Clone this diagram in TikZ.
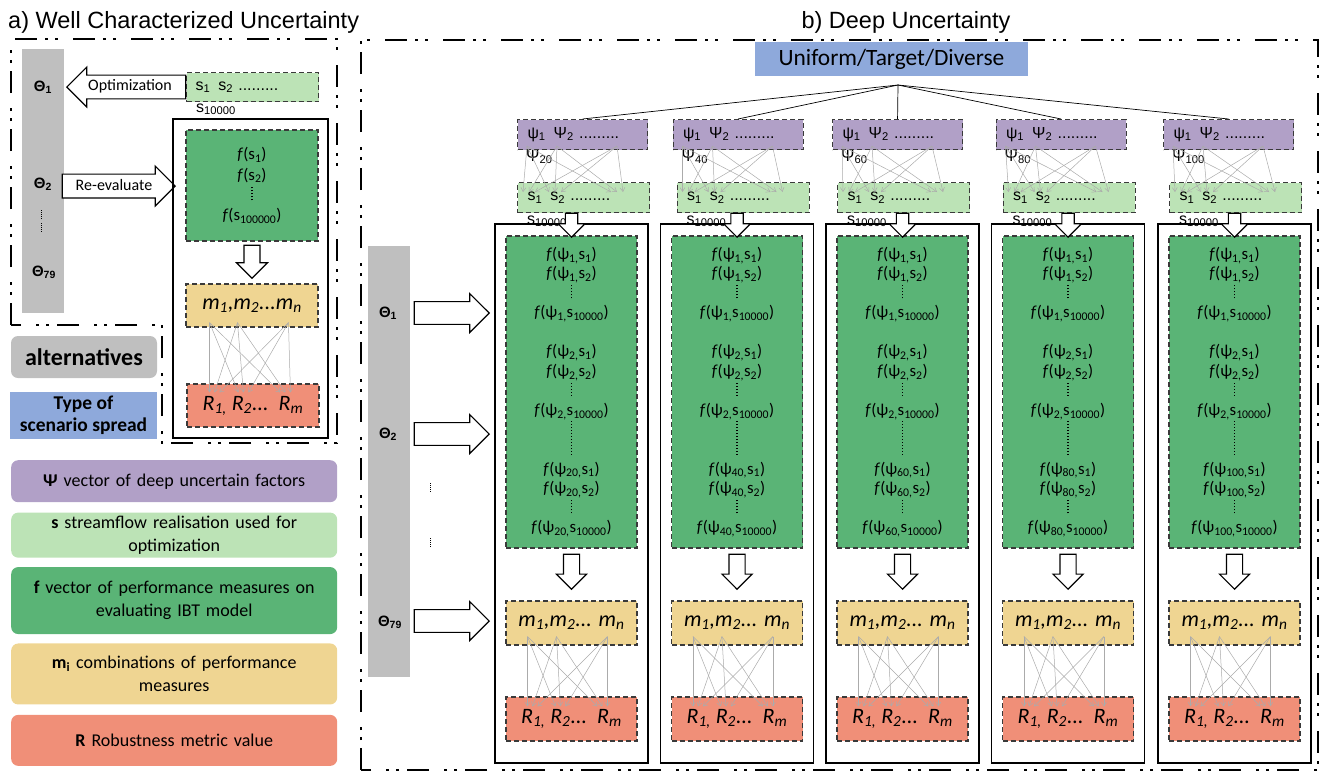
\documentclass[tikz,border=0pt]{standalone}
\usepackage{fontspec}
\setmainfont{Carlito}
\newfontfamily\arialfont{Liberation Sans}
\usetikzlibrary{shapes,arrows,arrows.meta,positioning,calc}
\definecolor{barGray}{HTML}{BFBFBF}
\definecolor{spreadBlue}{HTML}{8EA9DB}
\definecolor{psiPurple}{HTML}{B1A0C7}
\definecolor{sGreen}{HTML}{BCE3B6}
\definecolor{fGreen}{HTML}{5AB476}
\definecolor{mYellow}{HTML}{EFD592}
\definecolor{rRed}{HTML}{F08F78}
\definecolor{edgeGray}{HTML}{3A3A3A}
\definecolor{linkGray}{HTML}{ABABAB}
\newcount\dotcnt
\newcommand{\vdotline}[3]{\vbox{\baselineskip#2\lineskiplimit0pt\lineskip0pt\dotcnt=0 \loop\hbox{\rule{#1}{#1}}\advance\dotcnt by 1 \ifnum\dotcnt<#3 \repeat}}
\tikzset{%
heading/.style={font=\arialfont\fontsize{23.5}{26}\selectfont, inner sep=0pt},
dashframe/.style={line width=2.6pt, dash pattern=on 22pt off 8pt on 3pt off 7pt on 3pt off 15pt},
dbox/.style={draw=edgeGray, line width=1.1pt, dash pattern=on 5pt off 3pt, inner sep=0pt},
colbox/.style={draw=black, line width=1.8pt, minimum width=153pt, minimum height=539pt},
altbar/.style={fill=barGray, minimum width=42pt, inner sep=0pt},
theta/.style={font=\arialfont\bfseries\fontsize{15}{17}\selectfont, inner sep=0pt},
keybox/.style={rounded corners=7pt, minimum width=326pt, text width=318pt, inner xsep=4pt, align=center, font=\fontsize{18}{23}\selectfont},
bigarrow/.style={single arrow, draw=black, fill=white, line width=1.1pt},
arrowtext/.style={font=\fontsize{16}{18}\selectfont, inner sep=0pt},
link/.style={draw=linkGray, line width=0.5pt, -{Straight Barb[length=4pt,width=5pt]}},
psitext/.style={font=\arialfont\fontsize{16}{18}\selectfont},
ftext/.style={font=\fontsize{16.8}{19.5}\selectfont, align=center},
mtext/.style={font=\itshape\fontsize{22}{24}\selectfont}
}
\begin{document}
\begin{tikzpicture}[x=1pt, y=-1pt]
\useasboundingbox (0,0) rectangle (1325,774);
% a) well characterized uncertainty
\node[heading, anchor=base west] (titleA) at (8,28) {a) Well Characterized Uncertainty};
\draw[dashframe] (11,325) -- (11,39) -- (337,39) -- (337,443) -- (162,443) -- (162,325) -- cycle;
\node[altbar, minimum height=264pt] (barA) at (43,181) {};
\node[theta] (thA1) at (43,87) {Θ\textsubscript{1}};
\node[theta] (thA2) at (43,184) {Θ\textsubscript{2}};
\node[inner sep=0pt] (dotA1) at (41,214) {\vdotline{0.9pt}{2pt}{5}};
\node[inner sep=0pt] (dotA2) at (41,227) {\vdotline{0.9pt}{2pt}{5}};
\node[theta] (thA79) at (44,272) {Θ\textsubscript{79}};

\node[dbox, fill=sGreen, anchor=north west, minimum width=132pt, minimum height=29pt, text width=114pt, inner xsep=9pt, align=left, psitext] (sA) at (186,72) {s\textsubscript{1}\, s\textsubscript{2} .........};
\node[psitext, anchor=base west, inner sep=0pt] (sA10k) at (196,112) {s\textsubscript{10000}};
\node[bigarrow, shape border rotate=180, anchor=tip, minimum height=119pt, minimum width=40pt, inner sep=10pt] (optA) at (66,87) {};
\node[arrowtext] (optText) at (130,86) {Optimization};
\node[bigarrow, anchor=tip, minimum height=113pt, minimum width=40pt, inner sep=10pt] (reA) at (176,186) {};
\node[arrowtext] (reText) at (114,185) {Re-evaluate};

\node[draw=black, line width=1.8pt, minimum width=155pt, minimum height=319pt] (evalA) at (250.5,278.5) {};
\node[dbox, fill=fGreen, minimum width=132pt, minimum height=111pt, ftext, font=\fontsize{16.8}{20.3}\selectfont] (fA) at (252,185.5) {\textit{f}(s\textsubscript{1})\\ \textit{f}(s\textsubscript{2})\\ \vdotline{1.2pt}{3pt}{5}\\ \textit{f}(s\textsubscript{100000})};
\node[bigarrow, shape border rotate=270, anchor=tip, minimum height=33pt, minimum width=31pt, inner sep=7pt] (dnA) at (252,279) {};
\node[dbox, fill=mYellow, minimum width=132pt, minimum height=43pt, mtext] (mA) at (252,305.5) {m\textsubscript{1},m\textsubscript{2}...m\textsubscript{n}};
\node[dbox, fill=rRed, minimum width=132pt, minimum height=43pt, mtext] (rA) at (253,405.5) {R\textsubscript{1,} R\textsubscript{2}...\ \ R\textsubscript{m}};
\foreach \a [count=\k] in {24,52,103}
  \foreach \b in {28,57,99}
    \draw[link] ($(mA.south west)+(\a,-5)$) -- ($(rA.north west)+(\b+5*\k-10,9)$);

\node[fill=barGray, rounded corners=7pt, minimum width=146pt, minimum height=42pt, font=\bfseries\fontsize{24}{26}\selectfont] (alt) at (84,357) {alternatives};
\node[fill=spreadBlue, minimum width=147pt, minimum height=47pt, align=center, inner sep=0pt, font=\bfseries\fontsize{19.5}{22}\selectfont] (spread) at (83.5,415.5) {Type of\\scenario spread};

% legend
\node[keybox, fill=psiPurple, minimum height=42pt, anchor=north west] (keyPsi) at (11,460) {\textbf{Ψ} vector of deep uncertain factors};
\node[keybox, fill=sGreen, minimum height=43pt, below=10pt of keyPsi] (keyS) {\textbf{s} streamflow realisation used for\\optimization};
\node[keybox, fill=fGreen, minimum height=67pt, below=9pt of keyS] (keyF) {\textbf{f} vector of performance measures on\\evaluating IBT model};
\node[keybox, fill=mYellow, minimum height=61pt, below=9pt of keyF] (keyM) {\textbf{m\textsubscript{i}} combinations of performance\\measures};
\node[keybox, fill=rRed, minimum height=51pt, below=10pt of keyM] (keyR) {\textbf{R} Robustness metric value};

% b) deep uncertainty
\node[heading, anchor=base] (titleB) at (906,28) {b) Deep Uncertainty};
\draw[dashframe] (361,770) rectangle (1318,40);
\node[fill=spreadBlue, minimum width=273pt, minimum height=34pt, font=\fontsize{23.4}{25}\selectfont] (spreadType) at (891.5,59) {Uniform/Target/Diverse};
\coordinate (hub) at (898,85);
\node[altbar, minimum height=431pt] (barB) at (389,461.5) {};
\node[theta] (thB1) at (388,313) {Θ\textsubscript{1}};
\node[theta] (thB2) at (388,434) {Θ\textsubscript{2}};
\node[inner sep=0pt] (dotB1) at (430,487) {\vdotline{0.9pt}{2pt}{5}};
\node[inner sep=0pt] (dotB2) at (430,542) {\vdotline{0.9pt}{2pt}{5}};
\node[theta] (thB79) at (390,622) {Θ\textsubscript{79}};
\foreach \y/\nm in {313/1, 434/2, 621/79}
  \node[bigarrow, anchor=tip, minimum height=75pt, minimum width=39pt, inner sep=9.5pt] (arB\nm) at (490,\y) {};

\foreach \i/\xo/\pofs/\sofs/\nmax in {1/495/22/22/20, 2/660.5/12/16/40, 3/826/6/11/60, 4/991.5/4/11/80, 5/1158/5/11/100} {
  \node[colbox] (col\i) at (\xo+76.5,493.5) {};
  \node[dbox, fill=psiPurple, anchor=north west, minimum width=130pt, minimum height=30pt, text width=110pt, inner xsep=10pt, align=left, psitext] (psi\i) at (\xo+\pofs,119) {ψ\textsubscript{1}\, Ψ\textsubscript{2} .........};
  \draw[line width=0.7pt] (hub) -- (psi\i.north);
  \node[dbox, fill=sGreen, anchor=north west, minimum width=132pt, minimum height=30pt, text width=112pt, inner xsep=10pt, align=left, psitext] (s\i) at (\xo+\sofs,182) {s\textsubscript{1}\, s\textsubscript{2} .........};
  \node[psitext, anchor=base west, inner sep=0pt] (psiN\i) at (\xo+\pofs+9,161) {Ψ\textsubscript{\nmax}};
  \node[psitext, anchor=base west, inner sep=0pt] (sN\i) at (\xo+\sofs+10,224) {s\textsubscript{10000}};
  \foreach \a [count=\k] in {10,40,100}
    \foreach \b in {12,38,100}
      \draw[link] ($(psi\i.south west)+(\a,-4)$) -- ($(s\i.north west)+(\b+6*\k-12,10)$);
  \node[dbox, fill=fGreen, minimum width=131pt, minimum height=312pt, ftext] (f\i) at (\xo+76.5,392) {%
    \textit{f}(ψ\textsubscript{1,}s\textsubscript{1})\\
    \textit{f}(ψ\textsubscript{1,}s\textsubscript{2})\\
    \vdotline{1.2pt}{3pt}{5}\\
    \textit{f}(ψ\textsubscript{1,}s\textsubscript{10000})\\[19.5pt]
    \textit{f}(ψ\textsubscript{2,}s\textsubscript{1})\\
    \textit{f}(ψ\textsubscript{2,}s\textsubscript{2})\\
    \vdotline{1.2pt}{3pt}{5}\\
    \textit{f}(ψ\textsubscript{2,}s\textsubscript{10000})\\
    \vdotline{1.2pt}{3pt}{12}\\
    \textit{f}(ψ\textsubscript{\nmax,}s\textsubscript{1})\\
    \textit{f}(ψ\textsubscript{\nmax,}s\textsubscript{2})\\
    \vdotline{1.2pt}{3pt}{5}\\
    \textit{f}(ψ\textsubscript{\nmax,}s\textsubscript{10000})};
  \node[bigarrow, shape border rotate=270, anchor=tip, minimum height=24pt, minimum width=27pt, inner sep=5.5pt] (sd\i) at (\xo+76.5,238) {};
  \node[bigarrow, shape border rotate=270, anchor=tip, minimum height=35pt, minimum width=30pt, inner sep=7.5pt] (dn\i) at (\xo+76.5,590) {};
  \node[dbox, fill=mYellow, minimum width=131pt, minimum height=44pt, mtext] (m\i) at (\xo+76.5,623) {m\textsubscript{1},m\textsubscript{2}... m\textsubscript{n}};
  \node[dbox, fill=rRed, minimum width=131pt, minimum height=44pt, mtext] (r\i) at (\xo+76.5,719) {R\textsubscript{1,} R\textsubscript{2}...\ \ R\textsubscript{m}};
  \foreach \a [count=\k] in {22,51,102}
    \foreach \b in {27,55,97}
      \draw[link] ($(m\i.south west)+(\a,-9)$) -- ($(r\i.north west)+(\b+5*\k-10,10)$);
}
\end{tikzpicture}
\end{document}
